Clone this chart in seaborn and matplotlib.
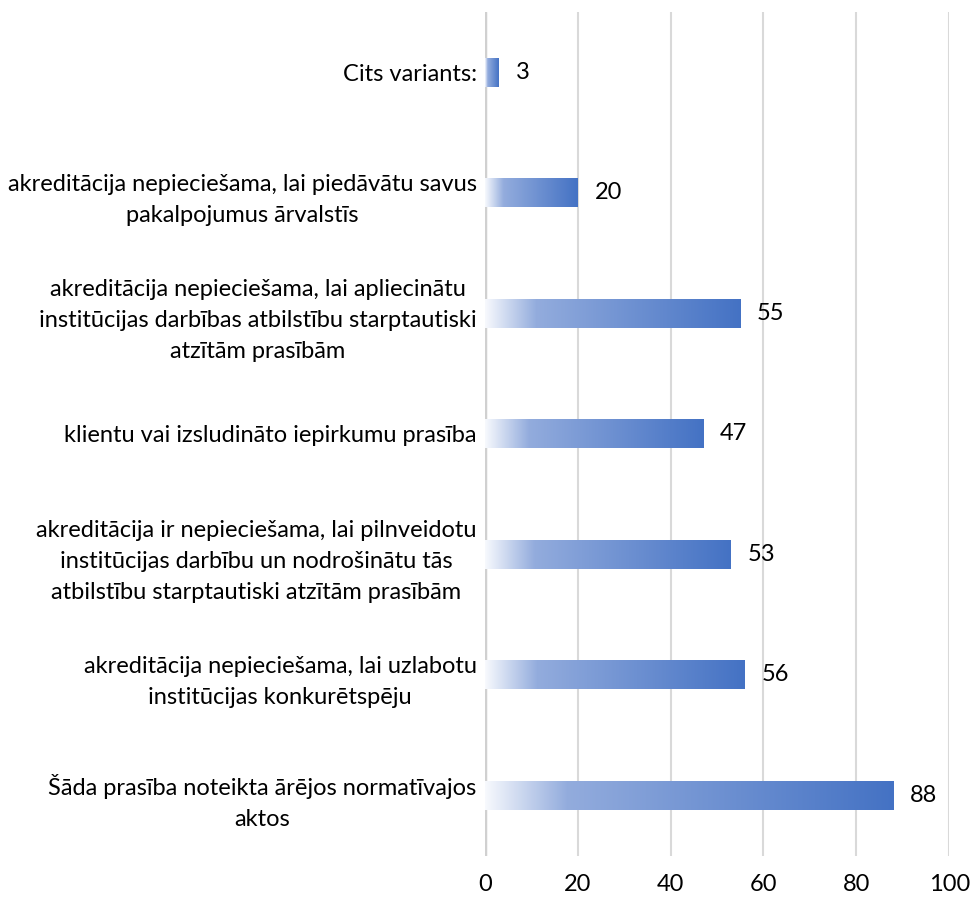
import matplotlib
matplotlib.use("Agg")
import matplotlib.pyplot as plt
import seaborn as sns
import numpy as np
import pandas as pd
from matplotlib.colors import LinearSegmentedColormap

# chart data (top to bottom)
labels = [
    "Cits variants:",
    "akreditācija nepieciešama, lai piedāvātu savus\npakalpojumus ārvalstīs",
    "akreditācija nepieciešama, lai apliecinātu\ninstitūcijas darbības atbilstību starptautiski\natzītām prasībām",
    "klientu vai izsludināto iepirkumu prasība",
    "akreditācija ir nepieciešama, lai pilnveidotu\ninstitūcijas darbību un nodrošinātu tās\natbilstību starptautiski atzītām prasībām",
    "akreditācija nepieciešama, lai uzlabotu\ninstitūcijas konkurētspēju",
    "Šāda prasība noteikta ārējos normatīvajos\naktos",
]
values = [3, 20, 55, 47, 53, 56, 88]
x_ticks = [0, 20, 40, 60, 80, 100]

df = pd.DataFrame({"label": labels, "value": values})

sns.set_theme(style="white")
plt.rcParams["font.family"] = ["Lato", "DejaVu Sans"]

fig = plt.figure(figsize=(9.71, 8.97), dpi=100)
ax = fig.add_axes([0.4995, 0.046, 0.478, 0.9405])

sns.barplot(data=df, x="value", y="label", orient="h", width=0.24,
            color="#4472C4", ax=ax, zorder=3)

# gradient fill: white -> blue along each bar
grad_cmap = LinearSegmentedColormap.from_list(
    "bar_grad", [(0.0, "#F7F9FD"), (0.2, "#93ACDD"), (1.0, "#4472C4")])
grad = np.linspace(0, 1, 256).reshape(1, -1)
for p in ax.patches:
    x0, y0 = p.get_x(), p.get_y()
    w, h = p.get_width(), p.get_height()
    p.set_facecolor("none")
    p.set_edgecolor("none")
    im = ax.imshow(grad, extent=[x0, x0 + w, y0 + h, y0], aspect="auto",
                   cmap=grad_cmap, zorder=3, interpolation="bilinear")
    im.set_clip_path(p)

ax.set_xlim(0, 100)
ax.set_ylim(len(labels) - 0.5, -0.5)
ax.set_xticks(x_ticks)
ax.set_xlabel("")
ax.set_ylabel("")

ax.xaxis.grid(True, color="#D9D9D9", linewidth=1.5, zorder=0)
ax.yaxis.grid(False)
ax.axvline(0, color="#D0D0D0", linewidth=2.5, zorder=1)
for s in ax.spines.values():
    s.set_visible(False)

ax.tick_params(axis="x", length=0, pad=13, labelsize=17, labelcolor="#000000")
ax.tick_params(axis="y", length=0, pad=6, labelsize=17, labelcolor="#000000")
for t in ax.get_yticklabels():
    t.set_multialignment("center")
    t.set_linespacing(1.58)

for i, v in enumerate(values):
    ax.text(v + 3.6, i, str(v), va="center", ha="left", fontsize=17,
            color="#000000", zorder=4)

fig.savefig("out.png", dpi=100)
